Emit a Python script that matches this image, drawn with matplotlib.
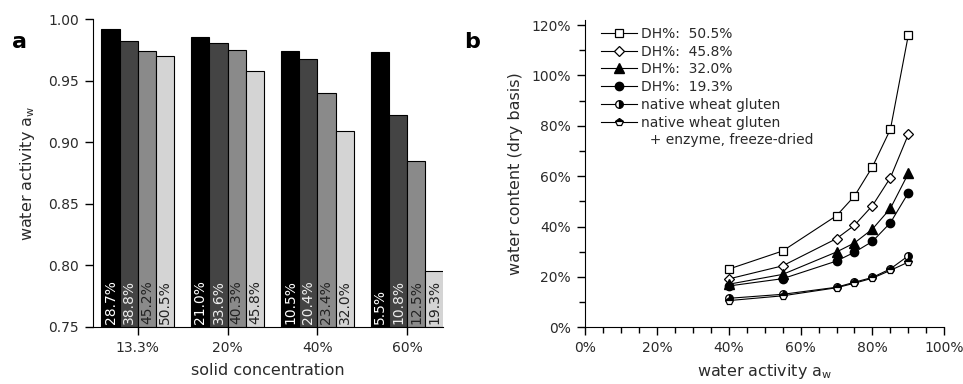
import matplotlib
matplotlib.use("Agg")
import matplotlib.pyplot as plt
import numpy as np
from matplotlib.ticker import MultipleLocator, PercentFormatter
from matplotlib.lines import Line2D

plt.rcParams['font.family'] = ['DejaVu Sans']

# ---------- data panel a ----------
solid_conc = ["13.3%", "20%", "40%", "60%"]
aw_bars = [
    [0.992, 0.982, 0.974, 0.970],
    [0.986, 0.981, 0.975, 0.958],
    [0.974, 0.968, 0.940, 0.909],
    [0.973, 0.922, 0.885, 0.795],
]
dh_labels = [
    ["28.7%", "38.8%", "45.2%", "50.5%"],
    ["21.0%", "33.6%", "40.3%", "45.8%"],
    ["10.5%", "20.4%", "23.4%", "32.0%"],
    ["5.5%", "10.8%", "12.5%", "19.3%"],
]
bar_colors = ["#000000", "#444444", "#8a8a8a", "#d4d4d4"]
text_colors = ["white", "#eeeeee", "#222222", "#222222"]

# ---------- data panel b ----------
aw_x = [0.40, 0.55, 0.70, 0.75, 0.80, 0.85, 0.90]
wc_dh505 = [0.231, 0.303, 0.443, 0.521, 0.637, 0.786, 1.161]
wc_dh458 = [0.192, 0.244, 0.352, 0.405, 0.483, 0.594, 0.766]
wc_dh320 = [0.171, 0.210, 0.299, 0.335, 0.390, 0.472, 0.611]
wc_dh193 = [0.164, 0.193, 0.263, 0.298, 0.341, 0.415, 0.534]
wc_native = [0.115, 0.131, 0.159, 0.179, 0.198, 0.232, 0.284]
wc_native_enz = [0.106, 0.125, 0.157, 0.175, 0.195, 0.226, 0.259]

series_labels = ["DH%:  50.5%", "DH%:  45.8%", "DH%:  32.0%", "DH%:  19.3%",
                 "native wheat gluten", "native wheat gluten"]

fig = plt.figure(figsize=(9.63, 3.84), dpi=100)
txtc = "#2a2a2a"

# ================= panel a =================
axa = fig.add_axes([93/963, 1 - 326.7/384, (443-93)/963, (326.7-19.3)/384])
bw = 0.203
x = np.arange(len(solid_conc))
for i in range(4):
    vals = [aw_bars[g][i] for g in range(4)]
    xpos = x + (i - 1.5) * bw
    axa.bar(xpos, np.array(vals) - 0.75, width=bw, bottom=0.75, color=bar_colors[i],
            edgecolor="black", linewidth=0.8, zorder=2)
    for g in range(4):
        axa.text(xpos[g], 0.7518, dh_labels[g][i], rotation=90, ha="center", va="bottom",
                 fontsize=10, color=text_colors[i], zorder=3)
axa.set_ylim(0.75, 1.00)
axa.set_xlim(-0.5, 3.4)
axa.set_xticks(x)
axa.set_xticklabels(solid_conc)
axa.set_yticks([0.75, 0.80, 0.85, 0.90, 0.95, 1.00])
axa.set_yticklabels(["0.75", "0.80", "0.85", "0.90", "0.95", "1.00"])
for s in ["top", "right"]:
    axa.spines[s].set_visible(False)
axa.tick_params(axis="both", direction="out", length=6, width=1, labelsize=10,
                labelcolor=txtc, pad=4)
axa.set_xlabel("solid concentration", fontsize=11.5, color=txtc, labelpad=6)
axa.set_ylabel(r"water activity a$_\mathregular{w}$", fontsize=11.5, color=txtc, labelpad=8)
fig.text(0.012, 0.875, "a", fontsize=16, fontweight="bold", color="black")

# ================= panel b =================
axb = fig.add_axes([585/963, 1 - 327.3/384, (944.3-585)/963, (327.3-20)/384])
lw = 0.8
axb.plot(aw_x, wc_dh505, color="black", lw=lw, marker="s", ms=5.4, mfc="white", mec="black", mew=0.9, label=series_labels[0], zorder=3)
axb.plot(aw_x, wc_dh458, color="black", lw=lw, marker="D", ms=5.4, mfc="white", mec="black", mew=0.9, label=series_labels[1], zorder=3)
axb.plot(aw_x, wc_dh320, color="black", lw=lw, marker="^", ms=7, mfc="black", mec="black", label=series_labels[2], zorder=3)
axb.plot(aw_x, wc_dh193, color="black", lw=lw, marker="o", ms=6, mfc="black", mec="black", label=series_labels[3], zorder=3)
axb.plot(aw_x, wc_native, color="black", lw=lw, marker="o", ms=5.5, fillstyle="right", mfc="black", mfcalt="white", mec="black", mew=0.9, label=series_labels[4], zorder=3)
axb.plot(aw_x, wc_native_enz, color="black", lw=lw, marker="p", ms=6, fillstyle="top", mfc="black", mfcalt="white", mec="black", mew=0.9, label=series_labels[5], zorder=3)
extra = Line2D([], [], color="none", marker=None)
handles, labels = axb.get_legend_handles_labels()
handles.append(extra)
labels.append("  + enzyme, freeze-dried")
leg = axb.legend(handles, labels, loc="upper left", bbox_to_anchor=(0.02, 1.005), frameon=False,
                 fontsize=10, handlelength=2.6, handletextpad=0.3, labelspacing=0.27,
                 numpoints=1, borderaxespad=0.2)
for t in leg.get_texts():
    t.set_color(txtc)

axb.set_xlim(0, 1.0)
axb.xaxis.set_major_locator(MultipleLocator(0.2))
axb.xaxis.set_minor_locator(MultipleLocator(0.05))
axb.yaxis.set_major_locator(MultipleLocator(0.2))
axb.yaxis.set_minor_locator(MultipleLocator(0.1))
axb.xaxis.set_major_formatter(PercentFormatter(1.0, decimals=0))
axb.yaxis.set_major_formatter(PercentFormatter(1.0, decimals=0))
axb.set_yticks([0, 0.2, 0.4, 0.6, 0.8, 1.0, 1.2])
axb.set_ylim(0, 1.22)
for s in ["top", "right"]:
    axb.spines[s].set_visible(False)
axb.tick_params(axis="both", which="major", direction="out", length=6, width=1,
                labelsize=10, labelcolor=txtc, pad=4)
axb.tick_params(axis="both", which="minor", direction="out", length=4, width=1)
axb.set_xlabel(r"water activity a$_\mathregular{w}$", fontsize=11.5, color=txtc, labelpad=5)
axb.set_ylabel("water content (dry basis)", fontsize=11.5, color=txtc, labelpad=6)
fig.text(0.482, 0.875, "b", fontsize=16, fontweight="bold", color="black")

fig.savefig("out.png", dpi=100)
